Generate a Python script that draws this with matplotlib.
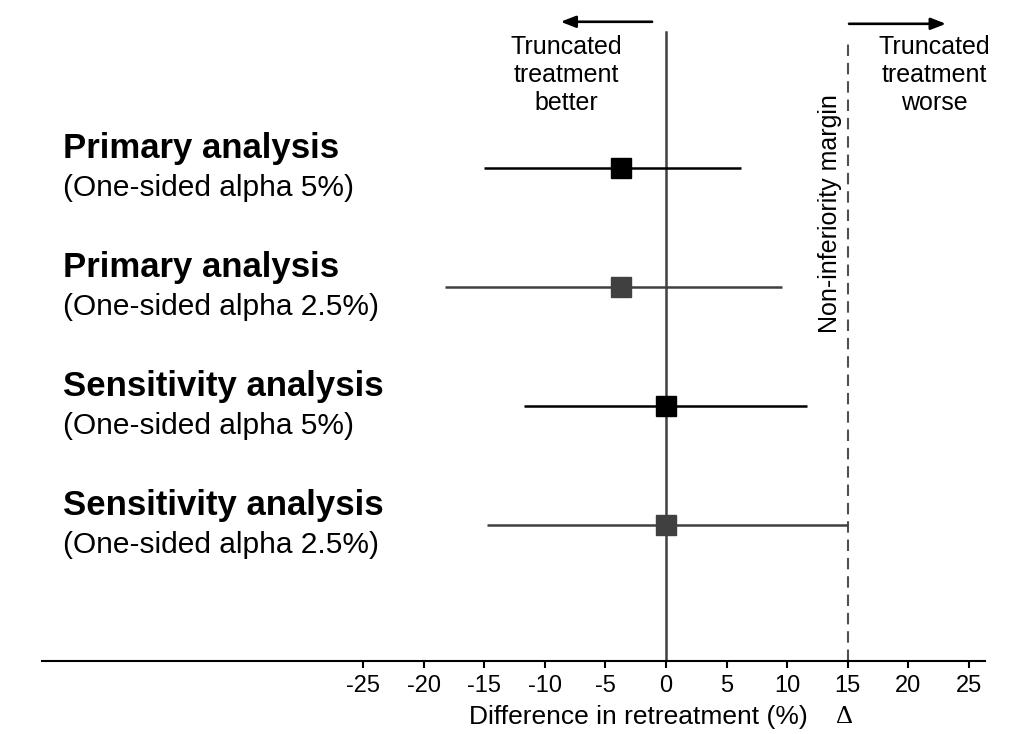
import matplotlib
matplotlib.use("Agg")
import matplotlib.pyplot as plt

plt.rcParams['font.family'] = ['Liberation Sans', 'DejaVu Sans']

# rows from top to bottom
titles = ["Primary analysis", "Primary analysis",
          "Sensitivity analysis", "Sensitivity analysis"]
subtitles = ["(One-sided alpha 5%)", "(One-sided alpha 2.5%)",
             "(One-sided alpha 5%)", "(One-sided alpha 2.5%)"]
estimates = [-3.7, -3.7, 0.0, 0.0]
ci_low = [-15.0, -18.2, -11.7, -14.8]
ci_high = [6.2, 9.6, 11.6, 15.0]
row_colors = ["#000000", "#404040", "#000000", "#404040"]
row_y = [4, 3, 2, 1]

margin = 15
xticks = [-25, -20, -15, -10, -5, 0, 5, 10, 15, 20, 25]

fig = plt.figure(figsize=(10.11, 7.34), dpi=100)
ax = fig.add_axes([42 / 1011, 73 / 734, (985 - 42) / 1011, 661 / 734])

ax.set_xlim(-51.49, 26.32)
ax.set_ylim(-0.143, 5.41)

# reference lines
ax.plot([0, 0], [-0.143, 5.143], color="#404040", lw=1.8, zorder=1)
ax.plot([margin, margin], [-0.143, 5.09], color="#505050", lw=1.5,
        dashes=(5.5, 3.3), zorder=1)

for y, est, lo, hi, c in zip(row_y, estimates, ci_low, ci_high, row_colors):
    ax.plot([lo, hi], [y, y], color=c, lw=1.8, zorder=2, solid_capstyle='butt')
    ax.plot(est, y, marker='s', ms=15, color=c, mec=c, zorder=3)

for y, t, s in zip(row_y, titles, subtitles):
    ax.text(-49.75, y + 0.084, t, fontsize=25, fontweight='bold', va='baseline', ha='left')
    ax.text(-49.75, y - 0.235, s, fontsize=21.5, va='baseline', ha='left')

# direction arrows and labels
arrow = dict(arrowstyle="-|>,head_length=0.9,head_width=0.35",
             color="black", lw=1.9, shrinkA=0, shrinkB=0)
ax.annotate("", xy=(-8.7, 5.227), xytext=(-1.15, 5.227), arrowprops=arrow)
ax.annotate("", xy=(23.1, 5.21), xytext=(15.1, 5.21), arrowprops=arrow)
ax.text(-8.25, 4.78, "Truncated\ntreatment\nbetter", fontsize=18,
        ha='center', va='center', linespacing=1.2)
ax.text(22.1, 4.78, "Truncated\ntreatment\nworse", fontsize=18,
        ha='center', va='center', linespacing=1.2)
ax.text(13.53, 3.62, "Non-inferiority margin", fontsize=18, rotation=90,
        ha='center', va='center')

# axis
for side in ["top", "left", "right"]:
    ax.spines[side].set_visible(False)
ax.spines["bottom"].set_linewidth(1.5)
ax.spines["bottom"].set_position(("data", -0.143))
ax.set_yticks([])
ax.set_xticks(xticks)
ax.set_xticklabels([str(v) for v in xticks])
ax.tick_params(axis='x', length=5, width=1.5, labelsize=17, pad=5)

ax.text(-2.3, -0.614, "Difference in retreatment (%)", fontsize=19,
        ha='center', va='center')
ax.text(14.7, -0.614, "\u0394", fontsize=19, ha='center', va='center',
        family=['Liberation Serif', 'DejaVu Serif'])

fig.savefig("out.png", dpi=100, facecolor="white")
